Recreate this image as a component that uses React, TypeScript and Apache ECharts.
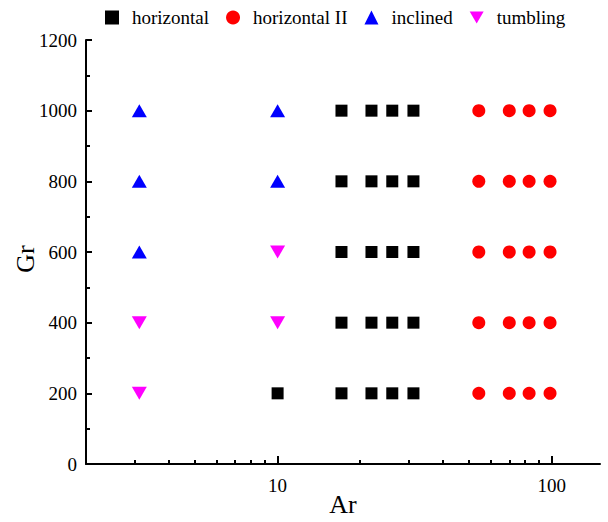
import React, { useEffect, useRef } from "react";
import * as echarts from "echarts";

const horizontalPts: number[][] = [
  [10, 200],
  [17.1, 200], [22, 200], [26.2, 200], [31.3, 200],
  [17.1, 400], [22, 400], [26.2, 400], [31.3, 400],
  [17.1, 600], [22, 600], [26.2, 600], [31.3, 600],
  [17.1, 800], [22, 800], [26.2, 800], [31.3, 800],
  [17.1, 1000], [22, 1000], [26.2, 1000], [31.3, 1000],
];
const horizontalIIPts: number[][] = [
  [54.2, 200], [70, 200], [82.7, 200], [98.6, 200],
  [54.2, 400], [70, 400], [82.7, 400], [98.6, 400],
  [54.2, 600], [70, 600], [82.7, 600], [98.6, 600],
  [54.2, 800], [70, 800], [82.7, 800], [98.6, 800],
  [54.2, 1000], [70, 1000], [82.7, 1000], [98.6, 1000],
];
const inclinedPts: number[][] = [
  [3.13, 600], [3.13, 800], [3.13, 1000], [10, 800], [10, 1000],
];
const tumblingPts: number[][] = [
  [3.13, 200], [3.13, 400], [10, 400], [10, 600],
];
const xLabelValues = [10, 100];
const xMinorTickValues = [3, 4, 5, 6, 7, 8, 9, 20, 30, 40, 50, 60, 70, 80, 90];

const FONT = "'Times New Roman', 'Liberation Serif', serif";
const DOWN_TRIANGLE = "path://M0,0 L20,0 L10,17 Z";

export default function App() {
  const ref = useRef<HTMLDivElement>(null);
  useEffect(() => {
    if (!ref.current) return;
    const chart = echarts.init(ref.current, undefined, { renderer: "svg" });
    const baseX = {
      type: "log",
      logBase: 10,
      min: 2,
      max: 150,
      position: "bottom",
      splitLine: { show: false },
      minorTick: { show: false },
    };
    chart.setOption({
      animation: false,
      textStyle: { fontFamily: FONT },
      grid: { left: 86, right: 8, top: 40, bottom: 58, outerBoundsMode: "none", containLabel: false },
      legend: {
        top: 3,
        left: 100,
        itemGap: 17,
        itemWidth: 14,
        itemHeight: 14,
        textStyle: { fontFamily: FONT, fontSize: 19, color: "#000", padding: [0, 0, 0, 8] },
        data: ["horizontal", "horizontal II", "inclined", "tumbling"],
      },
      xAxis: [
        {
          ...baseX,
          name: "Ar",
          nameLocation: "middle",
          nameGap: 27,
          nameMoveOverlap: false,
          nameTextStyle: { fontFamily: FONT, fontSize: 26, color: "#000" },
          axisLine: { onZero: false, lineStyle: { color: "#000", width: 2 } },
          axisTick: { inside: true, length: 8, customValues: xLabelValues, lineStyle: { color: "#000", width: 2 } },
          axisLabel: {
            customValues: xLabelValues,
            fontFamily: FONT,
            fontSize: 19,
            color: "#000",
            margin: 12,
          },
        },
        {
          ...baseX,
          axisLine: { show: false },
          axisTick: { inside: true, length: 4, customValues: xMinorTickValues, lineStyle: { color: "#000", width: 2 } },
          axisLabel: { show: false },
        },
      ],
      yAxis: {
        type: "value",
        min: 0,
        max: 1200,
        interval: 200,
        name: "Gr",
        nameLocation: "middle",
        nameGap: 48,
        nameMoveOverlap: false,
        nameTextStyle: { fontFamily: FONT, fontSize: 26, color: "#000", padding: [0, 14, 0, 0] },
        axisLine: { show: true, lineStyle: { color: "#000", width: 2 } },
        axisTick: { show: true, inside: true, length: 6, lineStyle: { color: "#000", width: 2 } },
        minorTick: { show: true, splitNumber: 2, length: 4, lineStyle: { color: "#000", width: 2 } },
        axisLabel: {
          fontFamily: FONT,
          fontSize: 19,
          color: "#000",
          margin: 9,
          formatter: (v: number) => String(v),
        },
        splitLine: { show: false },
      },
      series: [
        {
          name: "horizontal",
          type: "scatter",
          symbol: "rect",
          symbolSize: 12,
          itemStyle: { color: "#000", opacity: 1 },
          data: horizontalPts,
        },
        {
          name: "horizontal II",
          type: "scatter",
          symbol: "circle",
          symbolSize: 13,
          itemStyle: { color: "#ff0000", opacity: 1 },
          data: horizontalIIPts,
        },
        {
          name: "inclined",
          type: "scatter",
          symbol: "triangle",
          symbolSize: [15, 13],
          itemStyle: { color: "#0000ff", opacity: 1 },
          data: inclinedPts,
        },
        {
          name: "tumbling",
          type: "scatter",
          symbol: DOWN_TRIANGLE,
          symbolSize: [15, 13],
          itemStyle: { color: "#ff00ff", opacity: 1 },
          data: tumblingPts,
        },
      ],
    });
    return () => chart.dispose();
  }, []);
  return <div ref={ref} style={{ width: 608, height: 522, position: "absolute", left: 0, top: 0 }} />;
}
